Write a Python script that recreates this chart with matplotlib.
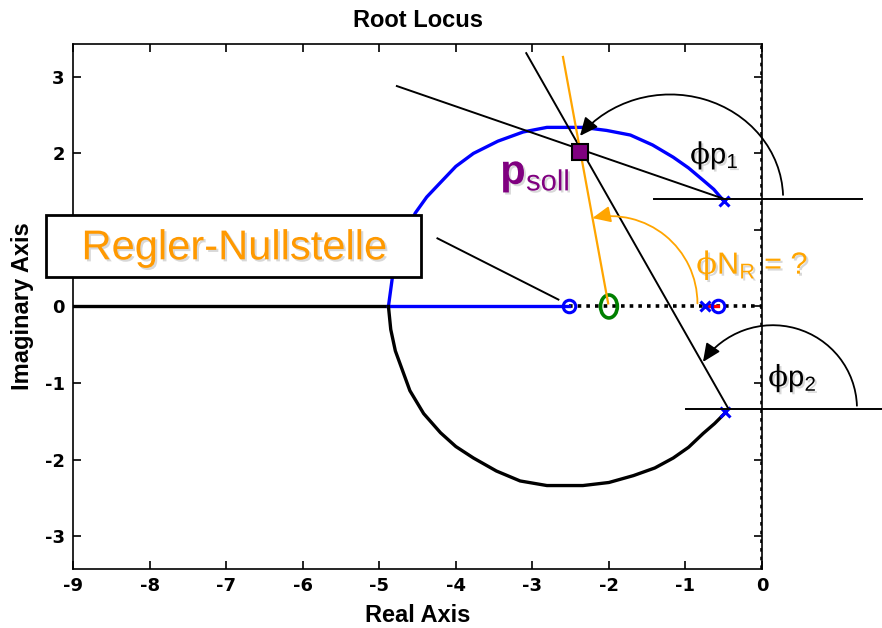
"""Root Locus mit Regler-Nullstelle und Winkelbedingung."""

import matplotlib

matplotlib.use("Agg")
import matplotlib.pyplot as plt
import matplotlib.patheffects as pe
from matplotlib.patches import Ellipse, FancyArrowPatch, Rectangle
from matplotlib.path import Path
from matplotlib.transforms import Affine2D

plt.rcParams["font.family"] = ["Liberation Sans", "DejaVu Sans"]
plt.rcParams["axes.unicode_minus"] = False
plt.rcParams["mathtext.fontset"] = "custom"
plt.rcParams["mathtext.rm"] = "Liberation Sans"
plt.rcParams["mathtext.it"] = "Liberation Sans:italic"
plt.rcParams["mathtext.bf"] = "Liberation Sans:bold"
plt.rcParams["mathtext.sf"] = "DejaVu Serif"

# Ortskurve, oberer Ast (blau), vom Pol bis zum Verzweigungspunkt
oben_x = [-0.51, -0.63, -0.77, -0.96, -1.16, -1.43, -1.72, -2.03, -2.34, -2.81,
          -3.12, -3.45, -3.77, -4.00, -4.20, -4.38, -4.53, -4.72, -4.83, -4.88]
oben_y = [1.39, 1.53, 1.65, 1.81, 1.95, 2.11, 2.24, 2.30, 2.34, 2.34,
          2.28, 2.16, 2.00, 1.83, 1.62, 1.43, 1.22, 0.80, 0.37, 0.0]

# unterer Ast (schwarz)
unten_x = [-0.48, -0.62, -0.77, -0.96, -1.16, -1.40, -1.68, -2.00, -2.34, -2.81,
           -3.16, -3.47, -3.77, -4.00, -4.20, -4.42, -4.60, -4.79, -4.85, -4.88]
unten_y = [-1.39, -1.53, -1.66, -1.84, -1.98, -2.11, -2.21, -2.30, -2.34, -2.34,
           -2.28, -2.15, -1.98, -1.83, -1.65, -1.40, -1.10, -0.58, -0.30, 0.0]

# reelle Achse
reell_schwarz = [-9.0, -4.88]
reell_blau = [-4.88, -2.52]
reell_punktiert = [-2.52, 0.0]
reell_rot = [-0.72, -0.58]

pole_x = [-0.5, -0.48, -0.74]
pole_y = [1.38, -1.38, 0.0]
nullstellen_x = [-2.52, -0.57]
regler_nullstelle = (-2.0, 0.0)
p_soll = (-2.38, 2.02)

x_ticks = [-9, -8, -7, -6, -5, -4, -3, -2, -1, 0]
y_ticks = [-3, -2, -1, 0, 1, 2, 3]

BLAU = "#0000FF"
ORANGE = "#FF9900"
ORANGE_HELL = "#FFA500"
LILA = "#800080"
GRUEN = "#008000"

schatten = [pe.SimplePatchShadow(offset=(1.5, -1.5), shadow_rgbFace="0.5", alpha=0.3), pe.Normal()]

fig = plt.figure(figsize=(8.82, 6.28), dpi=100)
ax = fig.add_axes([0.0828, 0.094, 0.7812, 0.836])

ax.plot(reell_schwarz, [0, 0], color="black", lw=2.4, zorder=3)
ax.plot(reell_blau, [0, 0], color=BLAU, lw=2.4, zorder=3)
ax.plot(reell_punktiert, [0, 0], color="black", lw=2.6, ls=(0, (1, 1.4)), zorder=2)
ax.axvline(0, color="black", lw=2.6, ls=(0, (1, 1.4)), zorder=2)
ax.plot(oben_x, oben_y, color=BLAU, lw=2.4, zorder=3)
ax.plot(unten_x, unten_y, color="black", lw=2.4, zorder=3)
ax.plot(reell_rot, [0, 0], color="red", lw=2.4, zorder=4)

ax.plot(pole_x, pole_y, ls="none", marker="x", ms=7, mew=2.2, color=BLAU, zorder=5)
ax.plot(nullstellen_x, [0, 0], ls="none", marker="o", ms=9, mew=2.2,
        mfc="none", mec=BLAU, zorder=5)
ax.add_patch(Ellipse(regler_nullstelle, 0.22, 0.30, fill=False, ec=GRUEN, lw=2.6, zorder=5))

# Hilfslinien
ax.plot([-4.77, -0.51], [2.88, 1.41], color="black", lw=1.4, zorder=6, clip_on=False)
ax.plot([-3.08, -0.44], [3.31, -1.335], color="black", lw=1.4, zorder=6, clip_on=False)
ax.plot([-2.60, -2.01], [3.26, 0.04], color=ORANGE_HELL, lw=1.6, zorder=7, clip_on=False)
ax.plot([-1.41, 1.31], [1.41, 1.41], color="black", lw=1.4, zorder=6, clip_on=False)
ax.plot([-0.99, 1.60], [-1.335, -1.335], color="black", lw=1.4, zorder=6, clip_on=False)
ax.plot([-4.24, -2.66], [0.89, 0.09], color="black", lw=1.4, zorder=6)

ax.plot(*p_soll, marker="s", ms=12, mfc=LILA, mec="black", mew=1.5, zorder=8)


def winkelbogen(mitte, rx, ry, von, bis, farbe):
    """Kreisbogen mit Pfeilspitze am Ende (Winkel in Grad, gegen den Uhrzeigersinn)."""
    pfad = Affine2D().scale(rx, ry).translate(*mitte).transform_path(Path.arc(von, bis))
    bogen = FancyArrowPatch(path=pfad, arrowstyle="-|>,head_length=1.0,head_width=0.45",
                            mutation_scale=11, lw=1.3, color=farbe,
                            transform=ax.transData, clip_on=False, zorder=9)
    ax.add_patch(bogen)


winkelbogen((-1.20, 1.41), 1.475, 1.36, 2, 143, "black")
winkelbogen((0.14, -1.335), 1.10, 1.09, 2, 146, "black")
winkelbogen((-1.98, 0.04), 1.136, 1.14, 0, 102, ORANGE_HELL)

# Beschriftungen
ax.text(-0.94, 1.98, r"$\mathsf{\phi}$p$_\mathrm{1}$", fontsize=21, ha="left", va="center",
        path_effects=schatten, zorder=10, clip_on=False)
ax.text(0.08, -0.93, r"$\mathsf{\phi}$p$_\mathrm{2}$", fontsize=21, ha="left", va="center",
        path_effects=schatten, zorder=10, clip_on=False)
ax.text(-0.86, 0.54, r"$\mathsf{\phi}$N$_\mathrm{R}$ = ?", fontsize=22, ha="left",
        va="center", color=ORANGE_HELL, path_effects=schatten, zorder=10, clip_on=False)
ax.text(-3.42, 1.72, r"$\mathbf{p}_{\mathrm{soll}}$", fontsize=30, ha="left", va="center",
        color=LILA, path_effects=schatten, zorder=10)

ax.add_patch(Rectangle((-9.35, 0.38), 4.89, 0.82, fc="white", ec="black", lw=2,
                       zorder=11, clip_on=False))
ax.text(-6.90, 0.76, "Regler-Nullstelle", fontsize=30, ha="center", va="center",
        color=ORANGE, path_effects=schatten, zorder=12, clip_on=False)

ax.set_xlim(-9, 0)
ax.set_ylim(-3.43, 3.43)
ax.set_xticks(x_ticks)
ax.set_yticks(y_ticks)
ax.tick_params(direction="in", length=6, width=1.2, top=True, right=True, pad=6)
for etikett in ax.get_xticklabels() + ax.get_yticklabels():
    etikett.set_fontweight("bold")
    etikett.set_family("DejaVu Sans")
    etikett.set_fontsize(13)
for seite in ax.spines.values():
    seite.set_linewidth(1.2)

ax.set_title("Root Locus", fontsize=17, fontweight="bold", pad=12)
ax.set_xlabel("Real Axis", fontsize=17, fontweight="bold", labelpad=6)
ax.set_ylabel("Imaginary Axis", fontsize=17, fontweight="bold", labelpad=8)

fig.savefig("out.png", dpi=100)
